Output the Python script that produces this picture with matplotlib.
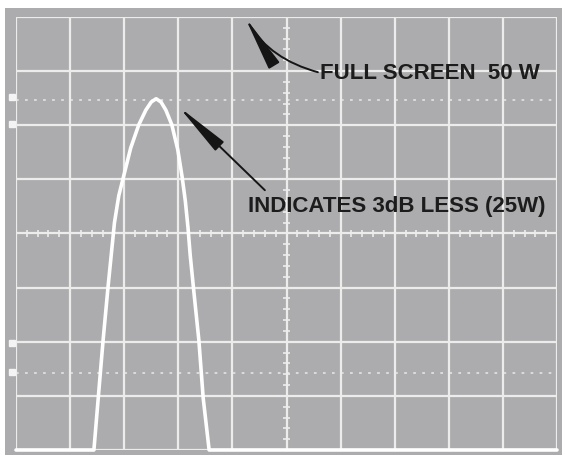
import numpy as np
import matplotlib
matplotlib.use("Agg")
import matplotlib.pyplot as plt
from matplotlib.patches import FancyArrowPatch

# graticule: 10 x 8 divisions
n_xdiv = 10
n_ydiv = 8

# trace (divisions)
trace_x = [0.0, 1.44, 1.52, 1.61, 1.70, 1.76, 1.82, 1.90, 2.00, 2.12, 2.27, 2.40, 2.50,
           2.59, 2.68, 2.77, 2.88, 2.99, 3.07, 3.13, 3.18, 3.22, 3.29, 3.38, 3.46, 3.57, 10.0]
trace_y = [0.0, 0.0, 0.96, 2.03, 3.0, 3.6, 4.2, 4.7, 5.1, 5.58, 6.01, 6.28, 6.43,
           6.49, 6.43, 6.28, 6.01, 5.55, 5.05, 4.6, 4.1, 3.6, 2.9, 2.03, 0.96, 0.0, 0.0]

# dotted reference levels and left-edge markers
ref_levels = [6.47, 1.42]
marker_levels = [6.52, 6.03, 1.98, 1.44]

label_full = "FULL SCREEN  50 W"
label_3db = "INDICATES 3dB LESS (25W)"

bg = "#acacae"
grid_col = "#ececec"

W, H = 565, 458
fig = plt.figure(figsize=(W / 100, H / 100), dpi=100)
fig.patch.set_facecolor("white")

# photo area behind the graticule
back = fig.add_axes([5 / W, (H - 455) / H, 557 / W, 447 / H])
back.set_facecolor(bg)
back.set_xticks([])
back.set_yticks([])
for s in back.spines.values():
    s.set_visible(False)

ax = fig.add_axes([16 / W, (H - 450) / H, 541 / W, 433 / H])
ax.set_facecolor(bg)
ax.set_xlim(0, n_xdiv)
ax.set_ylim(0, n_ydiv)
ax.set_xticks([])
ax.set_yticks([])
for s in ax.spines.values():
    s.set_visible(False)

# grid
ax.vlines(np.arange(n_xdiv + 1), 0, n_ydiv, color=grid_col, lw=1.6, zorder=1)
ax.hlines(np.arange(n_ydiv + 1), 0, n_xdiv, color=grid_col, lw=1.6, zorder=1)

# minor ticks on centre lines
tx = np.arange(0, n_xdiv + 0.01, 0.2)
ty = np.arange(0, n_ydiv + 0.01, 0.2)
ax.vlines(tx, n_ydiv / 2 - 0.07, n_ydiv / 2 + 0.07, color=grid_col, lw=1.2, zorder=1)
ax.hlines(ty, n_xdiv / 2 - 0.07, n_xdiv / 2 + 0.07, color=grid_col, lw=1.2, zorder=1)

# dotted reference lines
for lv in ref_levels:
    ax.plot([0, n_xdiv], [lv, lv], color=grid_col, lw=1.3, ls=(0, (1.5, 3.5)),
            alpha=0.8, zorder=1)

# small squares at left edge
ax.plot([-0.074] * len(marker_levels), marker_levels, ls="none", marker="s",
        ms=3.8, color="#f4f4f4", zorder=3, clip_on=False)

# trace
ax.plot(trace_x, trace_y, color="white", lw=2.6, solid_joinstyle="round",
        solid_capstyle="round", zorder=4, clip_on=False)

txt_kw = dict(fontfamily="Liberation Sans", fontweight="bold", color="#1c1c1c",
              fontsize=16)
ax.text(5.62, 6.95, label_full, ha="left", va="center", **txt_kw)
ax.text(4.29, 4.5, label_3db, ha="left", va="center", **txt_kw)

# arrows
a1 = FancyArrowPatch((5.58, 6.98), (4.23, 8.0),
                     connectionstyle="arc3,rad=-0.2",
                     arrowstyle="-|>,head_length=34,head_width=3.8",
                     mutation_scale=1, lw=1.4, color="#151515", zorder=5,
                     shrinkA=0, shrinkB=0, clip_on=False)
a2 = FancyArrowPatch((4.6, 4.8), (3.01, 6.34),
                     arrowstyle="-|>,head_length=34,head_width=3.8",
                     mutation_scale=1, lw=1.4, color="#151515", zorder=5,
                     shrinkA=0, shrinkB=0)
ax.add_patch(a1)
ax.add_patch(a2)

fig.savefig("out.png", dpi=100, facecolor="white")
